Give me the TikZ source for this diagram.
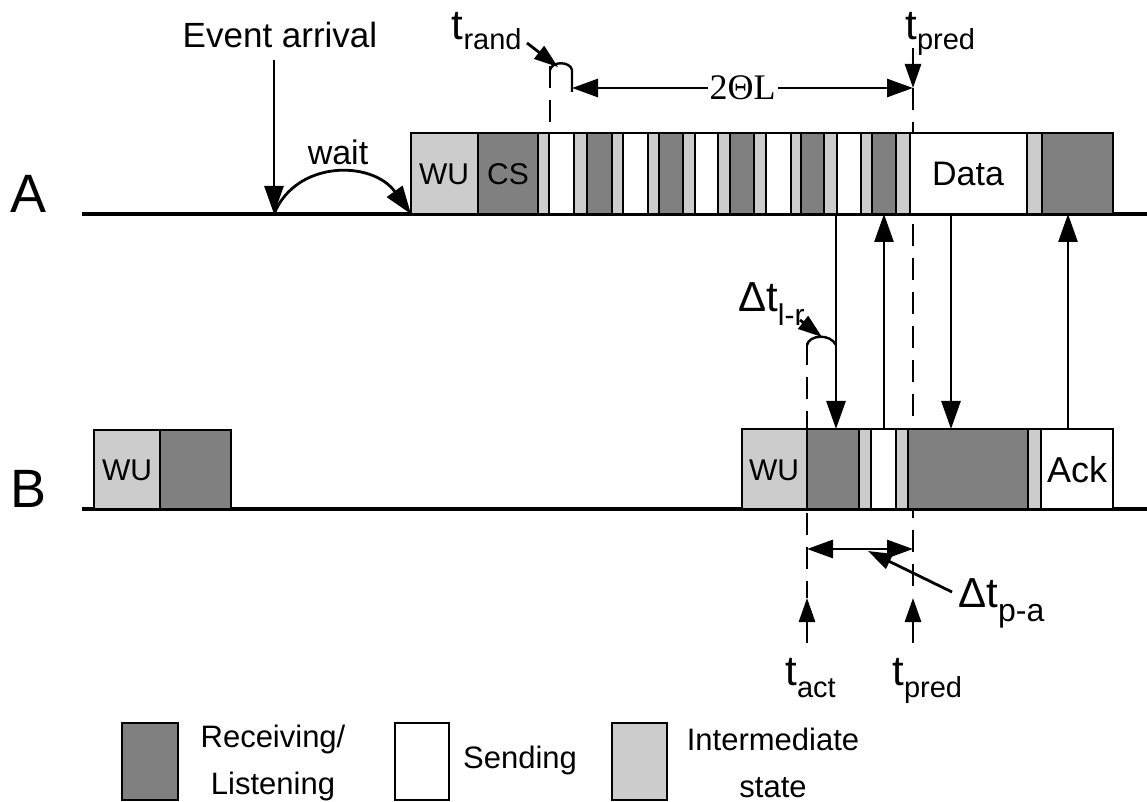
\documentclass[tikz,border=0pt]{standalone}
\usepackage{fontspec}
\setmainfont{Liberation Sans}
\newfontfamily\thetafont{Liberation Serif}
\usetikzlibrary{arrows.meta}
\definecolor{rxgray}{gray}{0.5}
\definecolor{midgray}{gray}{0.8}
% t with a lowered index
\newcommand{\tlab}[3][5pt]{{\fontsize{21}{21}\selectfont #2}\raisebox{-#1}{\fontsize{14.5}{14.5}\selectfont #3}}

\begin{document}
\begin{tikzpicture}[x=0.5pt, y=-0.5pt,
    dark block/.style={draw, line width=1.2pt, fill=rxgray},
    light block/.style={draw, line width=1.2pt, fill=midgray},
    white block/.style={draw, line width=1.2pt, fill=white},
    time line/.style={line width=1.6pt},
    sig/.style={line width=1.4pt, -{Triangle[length=14pt,width=9.5pt]}},
    small sig/.style={line width=1.4pt, -{Triangle[length=12pt,width=8pt]}},
    both sig/.style={line width=1.4pt, {Triangle[length=13pt,width=9pt]}-{Triangle[length=13pt,width=9pt]}},
    guide/.style={line width=1.3pt, dash pattern=on 11pt off 6pt},
    lbl/.style={inner sep=0pt, font=\fontsize{15}{15}\selectfont},
    big lbl/.style={inner sep=0pt, anchor=base west, font=\fontsize{27}{27}\selectfont}
]
\useasboundingbox (0,0) rectangle (1147,802);

% dashed guides (behind the blocks)
\draw[guide] (550,66) -- (550,133);
\draw[guide] (913,88) -- (913,598);
\draw[guide] (807,343) -- (807,598);

% time lines
\coordinate (A0) at (82,214);  \coordinate (A1) at (1147,214);
\coordinate (B0) at (82,509);  \coordinate (B1) at (1147,509);
\draw[time line] (A0) -- (A1);
\draw[time line] (B0) -- (B1);
\node[big lbl] (labA) at (10,213) {A};
\node[big lbl] (labB) at (10,508) {B};

% node A
\draw[light block] (411,133) rectangle (478,214);
\draw[dark block]  (478,133) rectangle (538,214);
\draw[light block] (538,133) rectangle (549,214);
\draw[white block] (549,133) rectangle (574,214);
\draw[light block] (574,133) rectangle (587,214);
\draw[dark block]  (587,133) rectangle (612,214);
\draw[light block] (612,133) rectangle (623,214);
\draw[white block] (623,133) rectangle (648,214);
\draw[light block] (648,133) rectangle (659,214);
\draw[dark block]  (659,133) rectangle (683,214);
\draw[light block] (683,133) rectangle (695,214);
\draw[white block] (695,133) rectangle (718,214);
\draw[light block] (718,133) rectangle (730,214);
\draw[dark block]  (730,133) rectangle (754,214);
\draw[light block] (754,133) rectangle (766,214);
\draw[white block] (766,133) rectangle (791,214);
\draw[light block] (791,133) rectangle (801,214);
\draw[dark block]  (801,133) rectangle (824,214);
\draw[light block] (824,133) rectangle (837,214);
\draw[white block] (837,133) rectangle (861,214);
\draw[light block] (861,133) rectangle (872,214);
\draw[dark block]  (872,133) rectangle (896,214);
\draw[light block] (896,133) rectangle (910,214);
\draw[white block] (910,133) rectangle (1027,214);
\draw[light block] (1027,133) rectangle (1042,214);
\draw[dark block]  (1042,133) rectangle (1113,214);
\node[lbl] (wuA) at (444,174) {WU};
\node[lbl] (csA) at (508,174) {CS};
\node[lbl, font=\fontsize{17}{17}\selectfont] (data) at (968,174) {Data};

% node B
\draw[light block] (94,430) rectangle (160,509);
\draw[dark block]  (160,430) rectangle (231,509);
\draw[light block] (742,429) rectangle (807,509);
\draw[dark block]  (807,429) rectangle (859,509);
\draw[light block] (859,429) rectangle (871,509);
\draw[white block] (871,429) rectangle (896,509);
\draw[light block] (896,429) rectangle (908,509);
\draw[dark block]  (908,429) rectangle (1028,509);
\draw[light block] (1028,429) rectangle (1041,509);
\draw[white block] (1041,429) rectangle (1113,509);
\node[lbl] (wuB1) at (127,470) {WU};
\node[lbl] (wuB2) at (774,470) {WU};
\node[lbl, font=\fontsize{18}{18}\selectfont] (ack) at (1077,470) {Ack};

% event and wait
\node[inner sep=0pt, anchor=base, font=\fontsize{17.5}{17.5}\selectfont] (evt) at (280,48) {Event arrival};
\coordinate (ev) at (274,60);
\coordinate (evA) at (274,214);
\coordinate (wuA0) at (411,214);
\draw[sig] (ev) -- (evA);
\draw[sig] (evA) .. controls (296,160) and (372,160) .. (wuA0);
\node[inner sep=0pt, anchor=base, font=\fontsize{17}{17}\selectfont] (wait) at (338,165) {wait};

% t_rand and 2 theta L
\node[inner sep=0pt, anchor=base east] (trand) at (522,40) {\tlab{t}{rand}};
\coordinate (trand0) at (527,43);
\coordinate (trand1) at (558,67);
\draw[small sig] (trand0) -- (trand1);
\draw[line width=1.2pt] (550,70) .. controls (552,61) and (570,61) .. (572,70) -- (572,92);
\coordinate (rnd) at (572,88);
\coordinate (prd) at (913,88);
\draw[both sig] (rnd) -- node[fill=white, inner sep=1pt, font=\thetafont\fontsize{18}{18}\selectfont] (twoTL) {2ΘL} (prd);
\node[inner sep=0pt, anchor=base west] (tpredA) at (905,40) {\tlab{t}{pred}};
\coordinate (prd0) at (913,48);
\draw[small sig] (prd0) -- (prd);

% messages between A and B
\coordinate (s1) at (836,214);  \coordinate (r1) at (836,429);
\coordinate (s2) at (884,429);  \coordinate (r2) at (884,214);
\coordinate (s3) at (951,214);  \coordinate (r3) at (951,429);
\coordinate (s4) at (1068,429); \coordinate (r4) at (1068,214);
\draw[sig] (s1) -- (r1);
\draw[sig] (s2) -- (r2);
\draw[sig] (s3) -- (r3);
\draw[sig] (s4) -- (r4);

% delta t l-r
\draw[line width=1.2pt] (807,345) .. controls (809,335) and (830,333) .. (836,345);
\node[inner sep=0pt, anchor=base east] (dtlr) at (805,312)
    {{\fontsize{21}{21}\selectfont Δt}\raisebox{-7pt}{\fontsize{15}{15}\selectfont l-r}};
\coordinate (lr0) at (800,320);
\coordinate (lr1) at (822,337);
\draw[small sig] (lr0) -- (lr1);

% below B
\coordinate (act) at (807,549);
\coordinate (prdB) at (913,549);
\draw[both sig] (act) -- (prdB);
\node[inner sep=0pt, anchor=base west] (dtpa) at (958,607)
    {{\fontsize{21}{21}\selectfont Δt}\raisebox{-7pt}{\fontsize{16}{16}\selectfont p-a}};
\coordinate (pa0) at (952,592);
\coordinate (pa1) at (868,551);
\draw[small sig] (pa0) -- (pa1);
\coordinate (act0) at (807,643);  \coordinate (act1) at (807,598);
\coordinate (pb0) at (913,643);   \coordinate (pb1) at (913,598);
\draw[small sig] (act0) -- (act1);
\draw[small sig] (pb0) -- (pb1);
\node[inner sep=0pt, anchor=base west] (tact) at (785,685) {\tlab[6pt]{t}{act}};
\node[inner sep=0pt, anchor=base west] (tpredB) at (892,685) {\tlab[6pt]{t}{pred}};

% legend
\draw[dark block]  (122,723) rectangle (178,800);
\draw[white block] (395,723) rectangle (449,800);
\draw[light block] (612,723) rectangle (667,800);
\node[lbl, align=center, font=\fontsize{15.5}{23.5}\selectfont] (legR) at (273,763) {Receiving/\\Listening};
\node[lbl, font=\fontsize{15.5}{15.5}\selectfont] (legS) at (520,760) {Sending};
\node[lbl, align=center, font=\fontsize{15.5}{23.5}\selectfont] (legI) at (773,763) {Intermediate\\state};
\end{tikzpicture}
\end{document}
